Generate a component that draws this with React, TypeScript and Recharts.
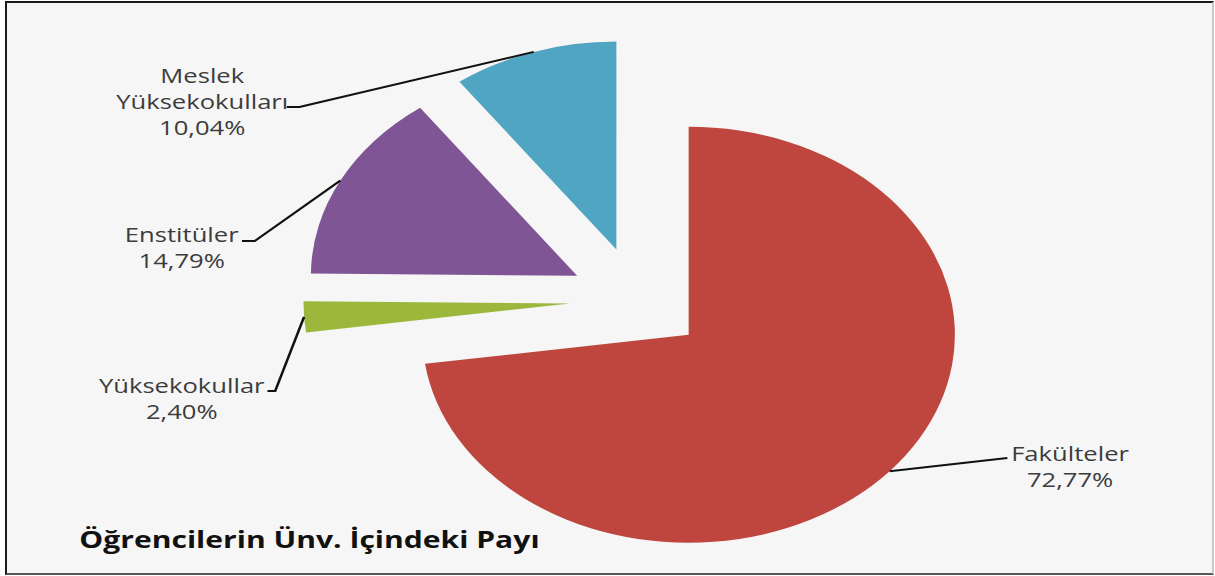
import { Pie, PieChart, Sector } from "recharts";

const CATEGORIES = ["Fakülteler", "Yüksekokullar", "Enstitüler", "Meslek Yüksekokulları"];
const SHARES = [72.77, 2.4, 14.79, 10.04];
const COLORS = ["#BE463E", "#9BB83C", "#7F5595", "#50A5C3"];

const TITLE = "Öğrencilerin Ünv. İçindeki Payı";

// the original picture is stretched horizontally, so the chart is drawn narrow and scaled
const STRETCH = 1.28;
const CHART_W = 949;
const CHART_H = 576;
const EXPLODE = 53;
const RADIAN = Math.PI / 180;

// label text anchor (centre, first baseline) and the leader line bends, in chart coords
const LABEL_LAYOUT = [
  { x: 836, y: 461, bends: [[787, 458]] },
  { x: 142, y: 393, bends: [[215, 391], [209, 391]] },
  { x: 142, y: 242, bends: [[199, 241], [189, 241]] },
  { x: 158, y: 83, bends: [[234, 107], [224, 107]] },
];

const data = CATEGORIES.map((name, i) => ({ name, value: SHARES[i], fill: COLORS[i] }));

function fmt(v: number) {
  return v.toFixed(2).replace(".", ",") + "%";
}

function ExplodedSector(props: any) {
  const { cx, cy, midAngle, innerRadius, outerRadius, startAngle, endAngle, fill } = props;
  const dx = EXPLODE * Math.cos(midAngle * RADIAN);
  const dy = -EXPLODE * Math.sin(midAngle * RADIAN);
  return (
    <Sector
      cx={cx + dx}
      cy={cy + dy}
      innerRadius={innerRadius}
      outerRadius={outerRadius}
      startAngle={startAngle}
      endAngle={endAngle}
      fill={fill}
      stroke="none"
    />
  );
}

function SliceLabel(props: any) {
  const { cx, cy, midAngle, outerRadius, index } = props;
  const layout = LABEL_LAYOUT[index];
  const r = outerRadius + EXPLODE;
  const ox = cx + r * Math.cos(midAngle * RADIAN);
  const oy = cy - r * Math.sin(midAngle * RADIAN);
  const pts = [[ox, oy], ...layout.bends].map((p) => p.join(",")).join(" ");
  const lines = [...CATEGORIES[index].split(" "), fmt(SHARES[index])];
  return (
    <g>
      <polyline points={pts} fill="none" stroke="#111" strokeWidth={2} />
      <text
        x={layout.x}
        y={layout.y}
        textAnchor="middle"
        fontFamily="'Open Sans', sans-serif"
        fontSize={20}
        fill="#3c3c3c"
      >
        {lines.map((t, i) => (
          <tspan key={i} x={layout.x} dy={i === 0 ? 0 : 26}>
            {t}
          </tspan>
        ))}
      </text>
    </g>
  );
}

export default function App() {
  return (
    <div style={{ position: "absolute", left: 0, top: 0, width: 1215, height: 576, background: "#fff" }}>
      <div
        style={{
          position: "absolute",
          left: 5,
          top: 1,
          width: 1209,
          height: 574,
          boxSizing: "border-box",
          background: "#f6f6f6",
          borderTop: "2px solid #1a1a1a",
          borderLeft: "2px solid #1a1a1a",
          borderBottom: "2px solid #555",
          borderRight: "2px solid #c8c8c8",
        }}
      />
      <div
        style={{
          position: "absolute",
          left: 0,
          top: 0,
          width: CHART_W,
          height: CHART_H,
          transform: `scaleX(${STRETCH})`,
          transformOrigin: "0 0",
        }}
      >
        <PieChart width={CHART_W} height={CHART_H} margin={{ top: 0, right: 0, bottom: 0, left: 0 }}>
          <Pie
            data={data}
            dataKey="value"
            nameKey="name"
            cx={498}
            cy={300}
            outerRadius={208}
            startAngle={90}
            endAngle={-270}
            stroke="none"
            shape={ExplodedSector}
            label={SliceLabel}
            labelLine={false}
            isAnimationActive={false}
          />
          <text
            x={62}
            y={548}
            fontFamily="'Open Sans', sans-serif"
            fontWeight="bold"
            fontSize={23.5}
            fill="#111"
          >
            {TITLE}
          </text>
        </PieChart>
      </div>
    </div>
  );
}
